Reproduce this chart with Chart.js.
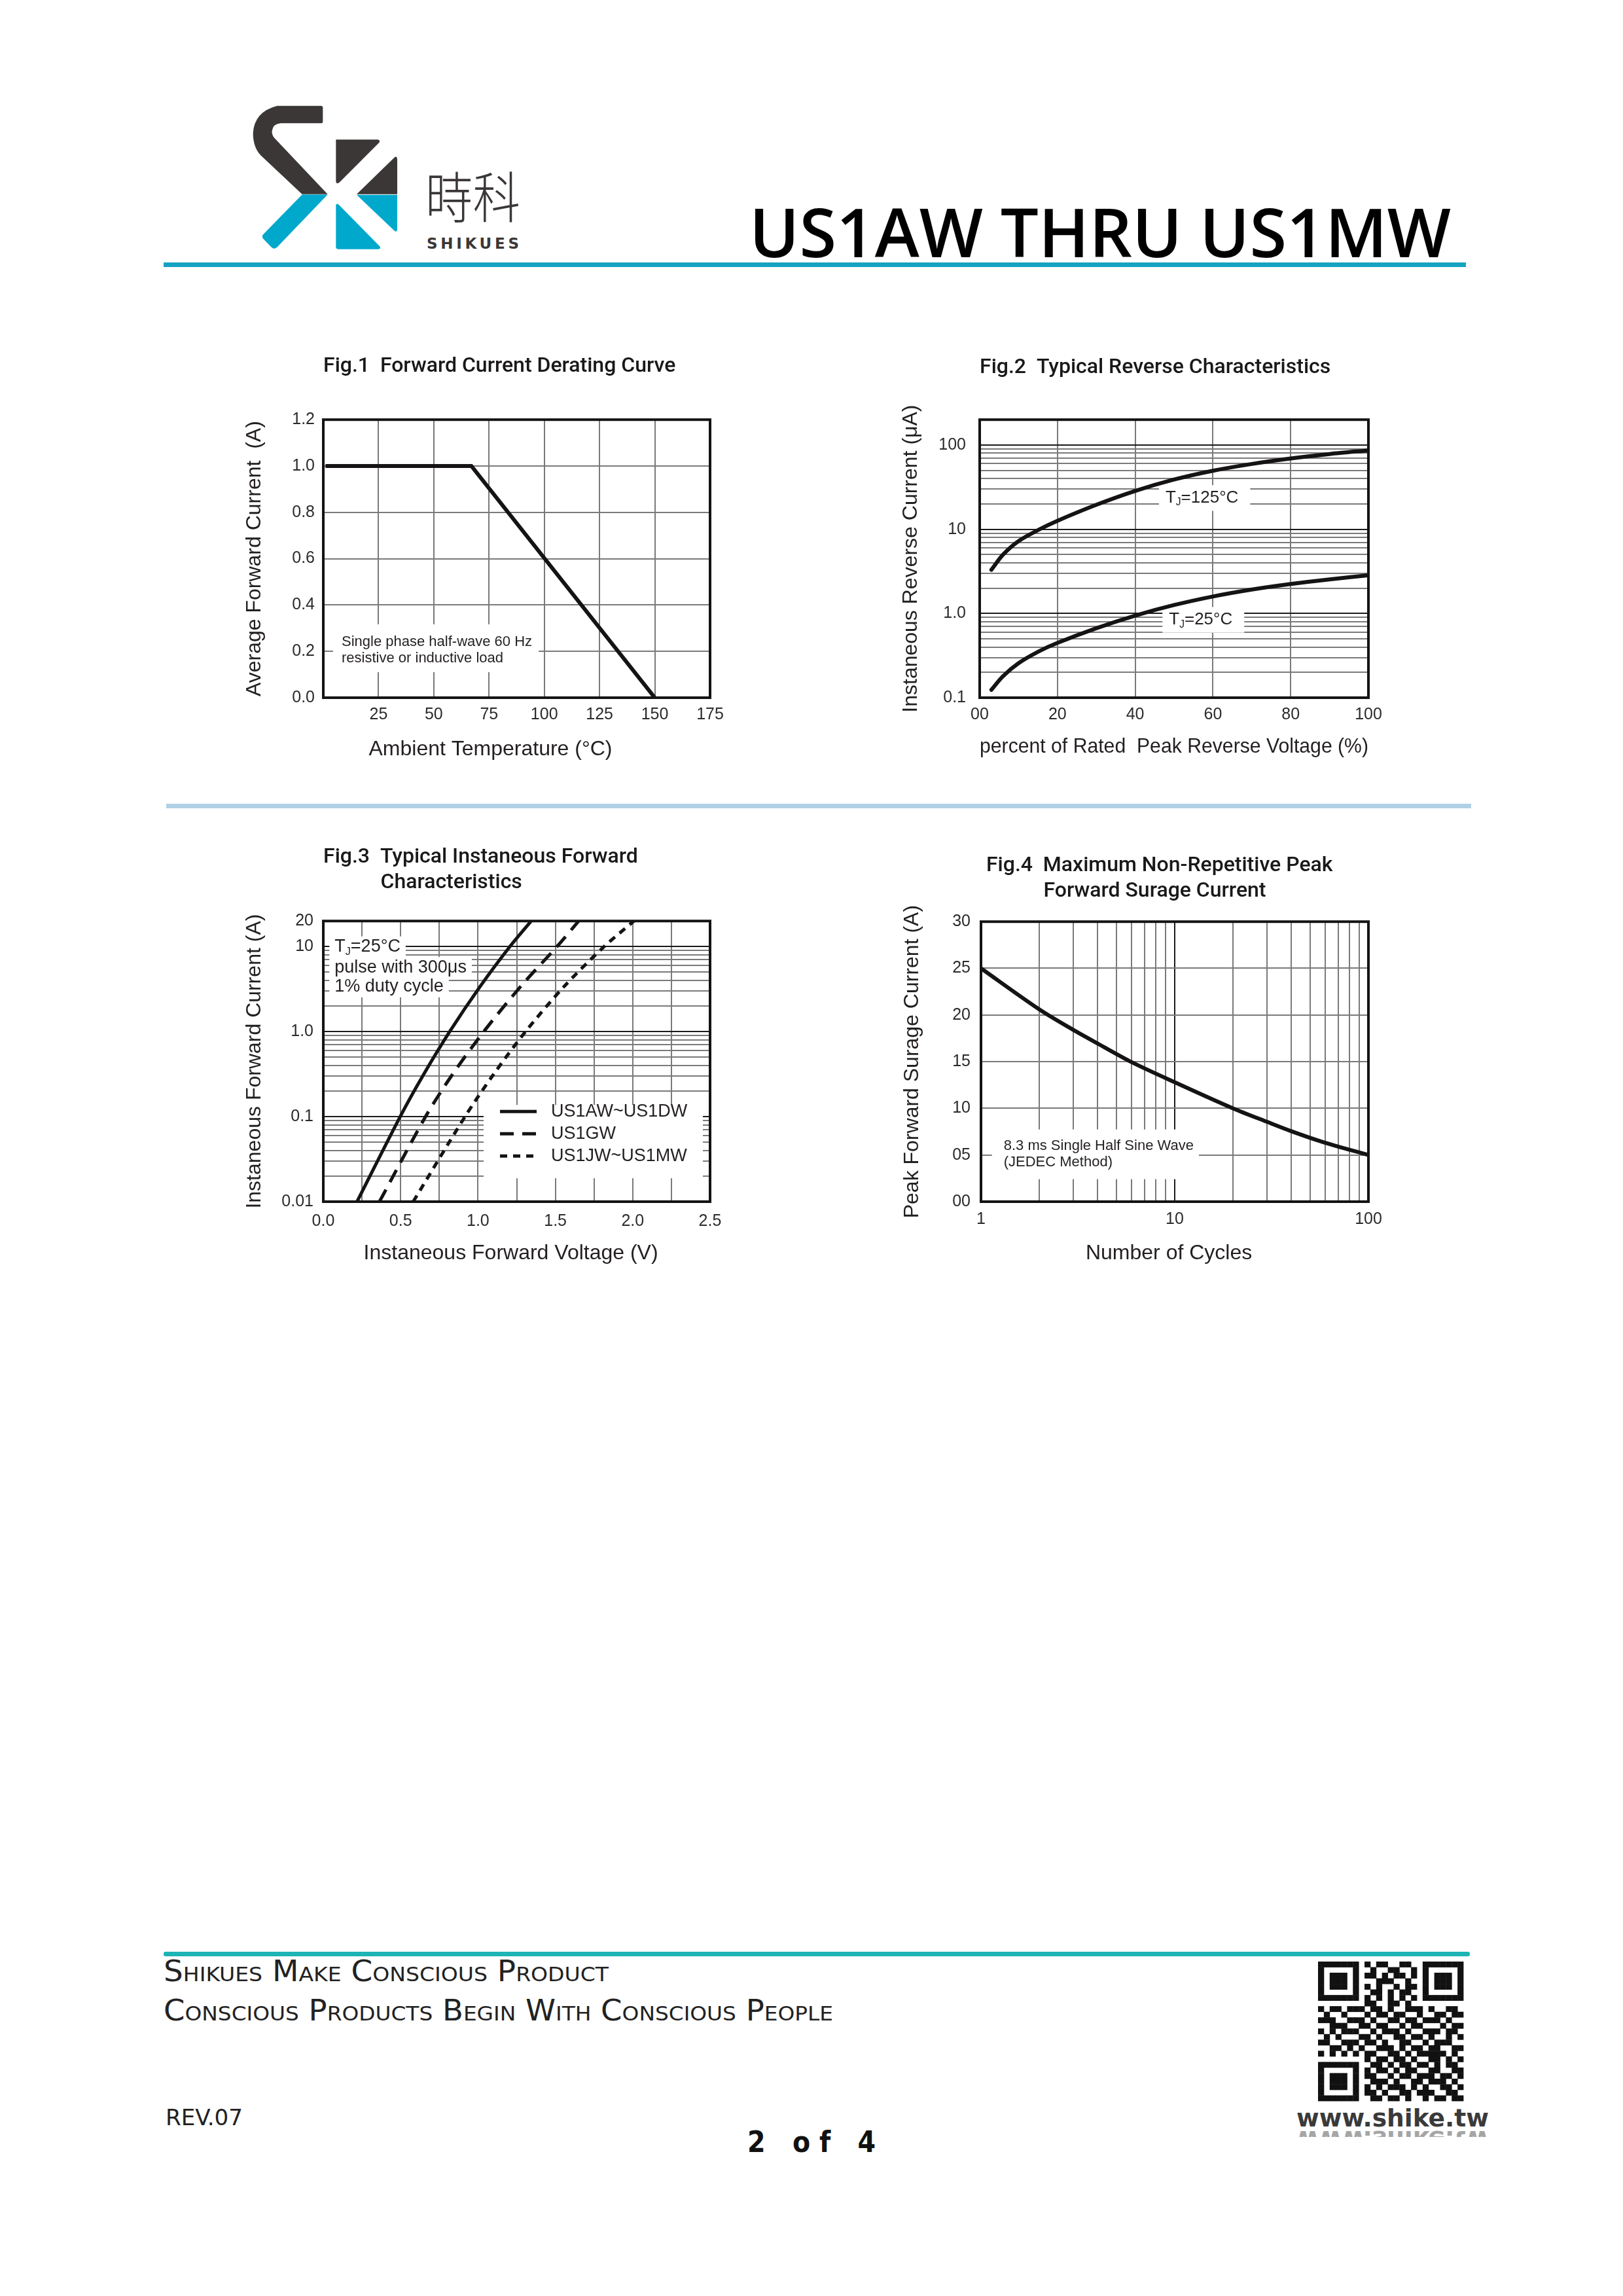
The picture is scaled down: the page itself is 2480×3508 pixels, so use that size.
<!DOCTYPE html>
<html>
<head>
<meta charset="utf-8">
<title>US1AW THRU US1MW</title>
<script src="https://cdn.jsdelivr.net/npm/chart.js@4.4.1/dist/chart.umd.min.js"></script>
<style>
  html, body { margin: 0; padding: 0; background: #fff; }
  #page { position: relative; width: 2480px; height: 3508px; overflow: hidden; background: #fff; }
  #deco { position: absolute; left: 0; top: 0; }
  canvas { position: absolute; }
</style>
</head>
<body>
<div id="page">
<svg id="deco" width="2480" height="3508" viewBox="0 0 2480 3508" xmlns="http://www.w3.org/2000/svg">
  <defs>
    <clipPath id="reflectClip"><rect x="1975" y="3252" width="310" height="13"/></clipPath>
  </defs>
  <!-- logo -->
  <g transform="translate(370,150) scale(0.3333)">
    <path fill="#3b3737" d="M160,35 L362,35 Q370,35 370,43 L370,107 Q370,115 362,115 L178,115 Q142,117 137,150 Q135,170 152,187 L392,440 L275,440 L85,262 Q50,225 50,160 Q56,62 160,35 Z"/>
    <path fill="#00a8cc" d="M275,442 L392,442 L160,683 Q147,695 135,684 L97,645 Q88,634 97,624 Z"/>
    <path fill="#3b3737" d="M430,190 L622,190 Q636,193 627,205 L445,387 Q431,396 430,380 Z"/>
    <path fill="#3b3737" d="M700,270 Q711,265 711,282 L711,440 L525,440 Z"/>
    <path fill="#00a8cc" d="M525,443 L711,443 L711,603 Q708,617 697,607 Z"/>
    <path fill="#00a8cc" d="M430,490 Q433,480 443,488 L632,680 Q637,692 622,692 L440,692 Q430,692 430,682 Z"/>
  </g>
  <text x="650" y="333" font-family="Noto Sans CJK TC, Noto Sans CJK SC, sans-serif" font-weight="300" font-size="84" fill="#3b3737" textLength="145" lengthAdjust="spacingAndGlyphs">時科</text>
  <text x="652" y="380" font-family="DejaVu Sans, sans-serif" font-weight="bold" font-size="23" fill="#3b3737" textLength="141">SHIKUES</text>
  <text x="1145" y="393" font-family="Open Sans, Noto Sans, sans-serif" font-weight="600" font-size="104" fill="#000" textLength="1072" lengthAdjust="spacingAndGlyphs">US1AW THRU US1MW</text>
  <rect x="250" y="401" width="1990" height="7" fill="#14a2c1"/>

  <!-- separator between figure rows -->
  <rect x="254" y="1228" width="1994" height="7" fill="#b0d0e6"/>

  <!-- footer -->
  <rect x="250" y="2982" width="1996" height="7" rx="3" fill="#1cb4b4"/>
  <text x="250" y="3027" font-family="DejaVu Sans Condensed, DejaVu Sans, sans-serif" font-size="44" style="font-variant: small-caps" fill="#222" textLength="680" lengthAdjust="spacingAndGlyphs">Shikues Make Conscious Product</text>
  <text x="250" y="3087" font-family="DejaVu Sans Condensed, DejaVu Sans, sans-serif" font-size="44" style="font-variant: small-caps" fill="#222" textLength="1023" lengthAdjust="spacingAndGlyphs">Conscious Products Begin With Conscious People</text>
  <text x="253" y="3247" font-family="DejaVu Sans Condensed, DejaVu Sans, sans-serif" font-size="34" fill="#222" textLength="118" lengthAdjust="spacingAndGlyphs">REV.07</text>
  <text x="1142" y="3288" font-family="Liberation Sans Narrow, DejaVu Sans Condensed, sans-serif" font-weight="bold" font-size="44" fill="#111" textLength="196" lengthAdjust="spacing">2  of  4</text>
  <text x="1981" y="3249" font-family="Liberation Sans Narrow, DejaVu Sans Condensed, sans-serif" font-weight="bold" font-size="38" fill="#3a3a3a" textLength="294" lengthAdjust="spacingAndGlyphs">www.shike.tw</text>
  <g clip-path="url(#reflectClip)" opacity="0.45">
    <text x="1981" y="3256" transform="translate(0,6512) scale(1,-1)" font-family="Liberation Sans Narrow, DejaVu Sans Condensed, sans-serif" font-weight="bold" font-size="38" fill="#3a3a3a" textLength="294" lengthAdjust="spacingAndGlyphs">www.shike.tw</text>
  </g>
  <g id="qr" fill="#111"></g>
</svg>
<canvas id="fig1"></canvas>
<canvas id="fig2"></canvas>
<canvas id="fig3"></canvas>
<canvas id="fig4"></canvas>
</div>
<script>
// Fig.1 Forward Current Derating Curve
const fig1Temp = [1, 67, 150];
const fig1Current = [1.0, 1.0, 0.0];
const fig1XTicks = [0, 25, 50, 75, 100, 125, 150, 175];
const fig1XLabels = ['', '25', '50', '75', '100', '125', '150', '175'];
const fig1YTicks = [0, 0.2, 0.4, 0.6, 0.8, 1.0, 1.2];
const fig1YLabels = ['0.0', '0.2', '0.4', '0.6', '0.8', '1.0', '1.2'];

// Fig.2 Typical Reverse Characteristics
const fig2Percent = [3, 6, 10, 15, 20, 30, 40, 50, 60, 70, 80, 90, 100];
const fig2Ir125 = [3.3, 5.0, 7.24, 9.77, 12.6, 19.5, 28.5, 38.9, 49.5, 59.6, 69.2, 78.2, 86.3];
const fig2Ir25 = [0.124, 0.18, 0.257, 0.351, 0.447, 0.668, 0.944, 1.259, 1.592, 1.923, 2.239, 2.541, 2.838];
const fig2XTicks = [0, 20, 40, 60, 80, 100];
const fig2XLabels = ['00', '20', '40', '60', '80', '100'];
const fig2YTicks = [0.1, 0.2, 0.3, 0.4, 0.5, 0.6, 0.7, 0.8, 0.9,
                    1, 2, 3, 4, 5, 6, 7, 8, 9,
                    10, 20, 30, 40, 50, 60, 70, 80, 90, 100];
const fig2YMajor = [0.1, 1, 10, 100];
const fig2YLabels = ['0.1', '1.0', '10', '100'];

// Fig.3 Typical Instaneous Forward Characteristics
const fig3Current = [0.01, 0.1, 0.31, 1, 3.4, 10, 20];
const fig3VfAD = [0.218, 0.497, 0.647, 0.817, 1.014, 1.206, 1.344];
const fig3VfG = [0.363, 0.661, 0.833, 1.037, 1.276, 1.510, 1.651];
const fig3VfJM = [0.581, 0.916, 1.098, 1.307, 1.557, 1.815, 2.008];
const fig3Series = ['US1AW~US1DW', 'US1GW', 'US1JW~US1MW'];
const fig3XTicks = [0, 0.25, 0.5, 0.75, 1.0, 1.25, 1.5, 1.75, 2.0, 2.25, 2.5];
const fig3XLabels = ['0.0', '', '0.5', '', '1.0', '', '1.5', '', '2.0', '', '2.5'];
const fig3YTicks = [0.01, 0.02, 0.03, 0.04, 0.05, 0.06, 0.07, 0.08, 0.09,
                    0.1, 0.2, 0.3, 0.4, 0.5, 0.6, 0.7, 0.8, 0.9,
                    1, 2, 3, 4, 5, 6, 7, 8, 9, 10, 20];
const fig3YMajor = [0.01, 0.1, 1, 10, 20];
const fig3YLabels = ['0.01', '0.1', '1.0', '10', '20'];

// Fig.4 Maximum Non-Repetitive Peak Forward Surage Current
const fig4Cycles = [1, 2, 3, 4, 6, 10, 20, 30, 40, 60, 100];
const fig4Ifsm = [25, 20.6, 18.4, 16.95, 14.95, 12.8, 10.0, 8.55, 7.55, 6.3, 5.0];
const fig4XTicks = [1, 2, 3, 4, 5, 6, 7, 8, 9, 10, 20, 30, 40, 50, 60, 70, 80, 90, 100];
const fig4XMajor = [1, 10, 100];
const fig4XLabels = ['1', '10', '100'];
const fig4YTicks = [0, 5, 10, 15, 20, 25, 30];
const fig4YLabels = ['00', '05', '10', '15', '20', '25', '30'];

const SANS = '"Liberation Sans", Arial, Helvetica, sans-serif';
const TEXT = '#231f20';
const INK = '#151313';
const GRID = '#7a7a7a';
const DARK = '#1c1a1a';
const TITLE_SIZE = 32;
const Y_W = 125;
const PAD_R = 40;

Chart.defaults.font.family = SANS;
Chart.defaults.color = TEXT;

function near(a, b) { return Math.abs(a - b) <= Math.abs(a) * 1e-6 + 1e-9; }

function labelFor(value, at, labels) {
  const i = at.findIndex(v => near(v, value));
  return i >= 0 ? labels[i] : '';
}

function points(xs, ys) { return xs.map((x, i) => ({x: x, y: ys[i]})); }

// text with "_X" meaning subscript X
function runsOf(text) {
  const out = [];
  let buf = '';
  for (let i = 0; i < text.length; i++) {
    if (text[i] === '_' && i + 1 < text.length) {
      if (buf) out.push({t: buf});
      buf = '';
      out.push({t: text[i + 1], sub: true});
      i++;
    } else {
      buf += text[i];
    }
  }
  if (buf) out.push({t: buf});
  return out;
}

function drawRuns(ctx, text, x, y, size, draw) {
  let cx = x;
  ctx.textBaseline = 'middle';
  ctx.textAlign = 'left';
  runsOf(text).forEach(r => {
    const s = r.sub ? size * 0.6 : size;
    ctx.font = s + 'px ' + SANS;
    if (draw) ctx.fillText(r.t, cx, r.sub ? y + size * 0.28 : y);
    cx += ctx.measureText(r.t).width;
  });
  return cx - x;
}

// notes written inside the plot on a white patch
const notesPlugin = {
  id: 'notes',
  beforeDatasetsDraw(chart, args, opts) {
    const items = opts.items || [];
    const {ctx, scales: {x, y}} = chart;
    ctx.save();
    items.forEach(item => {
      const px = x.getPixelForValue(item.x);
      const half = item.size * 0.6;
      const pad = item.pad;
      const rows = item.lines.map((line, i) => ({
        line: line,
        py: y.getPixelForValue(item.y[i]),
        w: drawRuns(ctx, line, 0, 0, item.size, false)
      }));
      ctx.fillStyle = '#fff';
      if (item.union) {
        const top = Math.min(...rows.map(r => r.py)) - half - pad.t;
        const bottom = Math.max(...rows.map(r => r.py)) + half + pad.b;
        const right = px + Math.max(...rows.map(r => r.w)) + pad.r;
        ctx.fillRect(px - pad.l, top, right - px + pad.l, bottom - top);
      } else {
        rows.forEach(r => ctx.fillRect(px - pad.l, r.py - half - pad.t, r.w + pad.l + pad.r, 2 * half + pad.t + pad.b));
      }
      ctx.fillStyle = TEXT;
      rows.forEach(r => drawRuns(ctx, r.line, px, r.py, item.size, true));
    });
    ctx.restore();
  }
};

// legend box placed inside the plot (Fig.3)
const keyPlugin = {
  id: 'key',
  beforeDatasetsDraw(chart, args, opts) {
    if (!opts.rows) return;
    const {ctx, chartArea: a} = chart;
    ctx.save();
    ctx.fillStyle = '#fff';
    ctx.fillRect(a.left + opts.box[0], a.top + opts.box[1], opts.box[2], opts.box[3]);
    chart.data.datasets.forEach((ds, i) => {
      const yy = a.top + opts.rows[i];
      ctx.strokeStyle = ds.borderColor;
      ctx.lineWidth = ds.borderWidth;
      ctx.lineCap = 'butt';
      ctx.setLineDash(ds.borderDash || []);
      ctx.beginPath();
      ctx.moveTo(a.left + opts.sample[0], yy);
      ctx.lineTo(a.left + opts.sample[1], yy);
      ctx.stroke();
      ctx.setLineDash([]);
      ctx.fillStyle = TEXT;
      ctx.font = opts.size + 'px ' + SANS;
      ctx.textBaseline = 'middle';
      ctx.fillText(ds.label, a.left + opts.textX, yy);
    });
    ctx.restore();
  }
};

const framePlugin = {
  id: 'frame',
  afterDraw(chart) {
    const {ctx, chartArea: a} = chart;
    ctx.save();
    ctx.strokeStyle = INK;
    ctx.lineWidth = 4;
    ctx.strokeRect(a.left, a.top, a.right - a.left, a.bottom - a.top);
    ctx.restore();
  }
};

function axis(o) {
  return {
    type: o.type,
    min: o.min,
    max: o.max,
    afterBuildTicks: s => { s.ticks = o.ticks.map(v => ({value: v})); },
    afterFit: o.horizontal
      ? s => { s.height = o.size; s.paddingLeft = 0; s.paddingRight = 0; }
      : s => { s.width = Y_W; s.paddingTop = 0; s.paddingBottom = 0; },
    grid: {
      drawTicks: false,
      lineWidth: 2,
      color: c => (c.tick && (o.dark || []).some(d => near(d, c.tick.value))) ? DARK : GRID
    },
    border: {display: false},
    ticks: {
      autoSkip: false,
      maxRotation: 0,
      minRotation: 0,
      padding: o.pad,
      color: '#2b2b2b',
      font: {family: SANS, size: 25},
      callback: v => labelFor(v, o.labelAt, o.labels)
    },
    title: {
      display: true,
      text: o.title,
      color: TEXT,
      font: {family: SANS, size: 32},
      padding: o.horizontal ? {top: 0, bottom: 2} : {top: 1, bottom: 0}
    }
  };
}

// indent the second title line so it starts under the word after "Fig.n  "
const measurer = document.createElement('canvas').getContext('2d');
function indentLike(prefix, text) {
  measurer.font = '500 ' + TITLE_SIZE + 'px Roboto, sans-serif';
  const n = Math.round(measurer.measureText(prefix).width / measurer.measureText(' ').width);
  return ' '.repeat(n) + text;
}

function makeChart(id, spec) {
  const canvas = document.getElementById(id);
  const lh = TITLE_SIZE * 1.2;
  const lines = spec.title.length;
  const top = spec.titleY - lh / 2 - 10;
  const left = spec.box.l - Y_W;
  const width = Y_W + (spec.box.r - spec.box.l) + PAD_R;
  const height = Math.round(spec.box.b - top + spec.x.size + 4);
  canvas.width = width;
  canvas.height = height;
  canvas.style.left = left + 'px';
  canvas.style.top = top + 'px';
  canvas.style.width = width + 'px';
  canvas.style.height = height + 'px';

  return new Chart(canvas, {
    type: 'line',
    data: {datasets: spec.datasets},
    options: {
      responsive: false,
      devicePixelRatio: 1,
      animation: false,
      events: [],
      layout: {padding: {left: 0, right: PAD_R, top: 0, bottom: 4}},
      scales: {
        x: axis(Object.assign({horizontal: true}, spec.x)),
        y: axis(spec.y)
      },
      plugins: {
        legend: {display: false},
        tooltip: {enabled: false},
        title: {
          display: true,
          text: spec.title,
          align: 'start',
          fullSize: false,
          color: '#1a1818',
          font: {family: 'Roboto, sans-serif', size: TITLE_SIZE, weight: '500', lineHeight: 1.2},
          padding: {top: 10, bottom: spec.box.t - spec.titleY - lh / 2 - (lines - 1) * lh}
        },
        notes: {items: spec.notes || []},
        key: spec.key || {}
      }
    },
    plugins: [notesPlugin, keyPlugin, framePlugin]
  });
}

function curve(label, xs, ys, extra) {
  return Object.assign({
    label: label,
    data: points(xs, ys),
    borderColor: INK,
    borderWidth: 6,
    pointRadius: 0,
    fill: false,
    tension: 0.3,
    borderCapStyle: 'round'
  }, extra || {});
}

makeChart('fig1', {
  title: ['Fig.1  Forward Current Derating Curve'],
  titleY: 560,
  box: {l: 494, t: 641, r: 1085, b: 1066},
  x: {type: 'linear', min: 0, max: 175, ticks: fig1XTicks, labelAt: fig1XTicks, labels: fig1XLabels,
      size: 100, pad: 11, title: 'Ambient Temperature (°C)' + ' '.repeat(9)},
  y: {type: 'linear', min: 0, max: 1.2, ticks: fig1YTicks, labelAt: fig1YTicks, labels: fig1YLabels,
      pad: 13, title: 'Average Forward Current  (A)'},
  datasets: [curve('Average Forward Current', fig1Temp, fig1Current,
    {tension: 0, borderCapStyle: 'butt', borderJoinStyle: 'miter'})],
  notes: [{x: 8.3, y: [0.24, 0.17], lines: ['Single phase half-wave 60 Hz', 'resistive or inductive load'],
           size: 22, union: true, pad: {l: 13, r: 10, t: 14, b: 8}}]
});

makeChart('fig2', {
  title: ['Fig.2  Typical Reverse Characteristics'],
  titleY: 562,
  box: {l: 1497, t: 641, r: 2091, b: 1066},
  x: {type: 'linear', min: 0, max: 100, ticks: fig2XTicks, labelAt: fig2XTicks, labels: fig2XLabels,
      size: 96, pad: 11, title: 'percent of Rated  Peak Reverse Voltage (%)'},
  y: {type: 'logarithmic', min: 0.1, max: 200, ticks: fig2YTicks, labelAt: fig2YMajor, labels: fig2YLabels,
      dark: fig2YMajor, pad: 21, title: 'Instaneous Reverse Current (μA)'},
  datasets: [
    curve('T_J=125°C', fig2Percent, fig2Ir125),
    curve('T_J=25°C', fig2Percent, fig2Ir25)
  ],
  notes: [
    {x: 47.8, y: [23.5], lines: ['T_J=125°C'], size: 26, union: false, pad: {l: 10, r: 18, t: 4, b: 4}},
    {x: 48.7, y: [0.84], lines: ['T_J=25°C'], size: 26, union: false, pad: {l: 10, r: 18, t: 4, b: 4}}
  ]
});

makeChart('fig3', {
  title: ['Fig.3  Typical Instaneous Forward', indentLike('Fig.3  ', 'Characteristics')],
  titleY: 1310,
  box: {l: 494, t: 1407, r: 1085, b: 1836},
  x: {type: 'linear', min: 0, max: 2.5, ticks: fig3XTicks, labelAt: fig3XTicks, labels: fig3XLabels,
      size: 100, pad: 15, title: 'Instaneous Forward Voltage (V)' + '  '},
  y: {type: 'logarithmic', min: 0.01, max: 20, ticks: fig3YTicks, labelAt: fig3YMajor, labels: fig3YLabels,
      dark: [0.1, 1, 10], pad: 15, title: 'Instaneous Forward Current (A)'},
  datasets: [
    curve(fig3Series[0], fig3VfAD, fig3Current, {borderWidth: 5}),
    curve(fig3Series[1], fig3VfG, fig3Current, {borderWidth: 5, borderDash: [21, 13], borderCapStyle: 'butt'}),
    curve(fig3Series[2], fig3VfJM, fig3Current, {borderWidth: 5, borderDash: [11, 9], borderCapStyle: 'butt'})
  ],
  notes: [{x: 0.073, y: [9.9, 5.66, 3.37], lines: ['T_J=25°C', 'pulse with 300μs', '1% duty cycle'],
           size: 27, union: false, pad: {l: 8, r: 8, t: 0, b: 0}}],
  key: {box: [245, 281, 335, 112], rows: [291, 325, 359], sample: [270, 326], textX: 348, size: 27}
});

makeChart('fig4', {
  title: [' Fig.4  Maximum Non-Repetitive Peak', indentLike(' Fig.4  ', 'Forward Surage Current')],
  titleY: 1323,
  box: {l: 1499, t: 1408, r: 2091, b: 1836},
  x: {type: 'logarithmic', min: 1, max: 100, ticks: fig4XTicks, labelAt: fig4XMajor, labels: fig4XLabels,
      dark: [10], size: 100, pad: 12, title: 'Number of Cycles' + '  '},
  y: {type: 'linear', min: 0, max: 30, ticks: fig4YTicks, labelAt: fig4YTicks, labels: fig4YLabels,
      pad: 16, title: 'Peak Forward Surage Current (A)'},
  datasets: [curve('Peak Forward Surge Current', fig4Cycles, fig4Ifsm)],
  notes: [{x: 1.31, y: [5.97, 4.18], lines: ['8.3 ms Single Half Sine Wave', '(JEDEC Method)'],
           size: 22, union: true, pad: {l: 18, r: 8, t: 12, b: 12}}]
});

// QR code badge in the footer (fixed module pattern)
const qrRows = [
  '1111111010110011001111111',
  '1000001001001100101000001',
  '1011101011010110101011101',
  '1011101000111001001011101',
  '1011101010100101101011101',
  '1000001001101011001000001',
  '1111111010101010101111111',
  '0000000011001101000000000',
  '1011011101101001110100110',
  '0100100010110110010011011',
  '1110011101001101101110100',
  '0011100110110010110001011',
  '1010111001011101001110110',
  '0101000110100110110100101',
  '1100111011010011001011100',
  '0011010100111010110110011',
  '1010101011001101011111010',
  '0000000010110110100110101',
  '1111111001101011011010110',
  '1000001010110101100110011',
  '1011101011001011011101101',
  '1011101001110100110111010',
  '1011101010101110101001101',
  '1000001011010011011100110',
  '1111111001101101001011011'
];
(function drawQr() {
  const g = document.getElementById('qr');
  const x0 = 2014, y0 = 2997, mw = 222 / 25, mh = 213 / 25;
  qrRows.forEach((row, r) => {
    for (let c = 0; c < 25; c++) {
      if (row[c] !== '1') continue;
      const rect = document.createElementNS('http://www.w3.org/2000/svg', 'rect');
      rect.setAttribute('x', (x0 + c * mw).toFixed(2));
      rect.setAttribute('y', (y0 + r * mh).toFixed(2));
      rect.setAttribute('width', (mw + 0.4).toFixed(2));
      rect.setAttribute('height', (mh + 0.4).toFixed(2));
      g.appendChild(rect);
    }
  });
})();
</script>
</body>
</html>
